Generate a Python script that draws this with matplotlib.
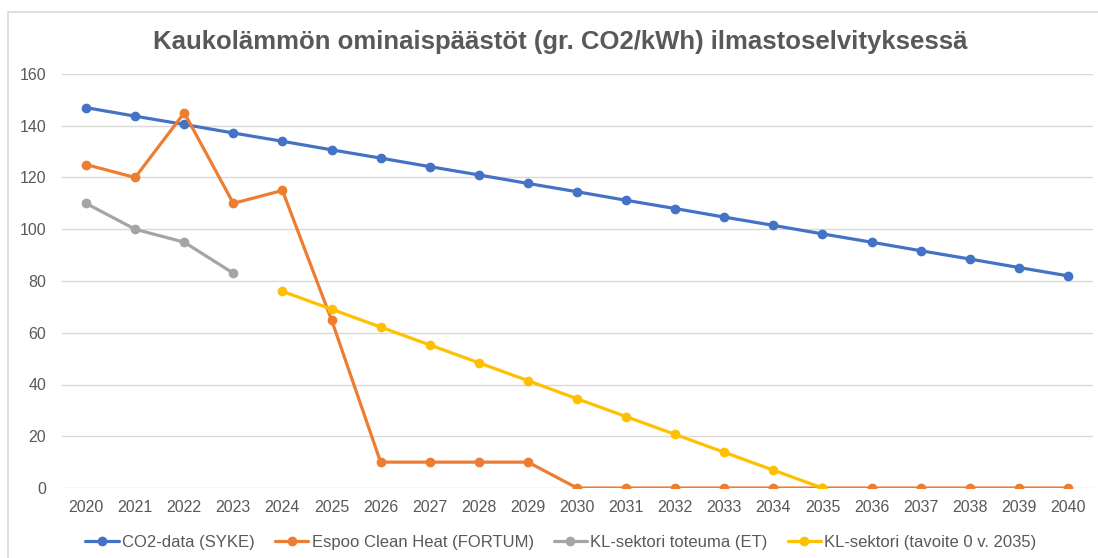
import matplotlib
matplotlib.use("Agg")
import matplotlib.pyplot as plt
from matplotlib.patches import Rectangle

plt.rcParams['font.family'] = ['Liberation Sans', 'DejaVu Sans']

years = list(range(2020, 2041))
syke = [147, 143.7, 140.5, 137.2, 134, 130.7, 127.5, 124.2, 121, 117.7, 114.5,
        111.2, 108, 104.7, 101.5, 98.2, 95, 91.7, 88.5, 85.2, 82]
fortum = [125, 120, 145, 110, 115, 65, 10, 10, 10, 10, 0,
          0, 0, 0, 0, 0, 0, 0, 0, 0, 0]
et_years = [2020, 2021, 2022, 2023]
et = [110, 100, 95, 83]
target_years = list(range(2024, 2036))
target = [76, 69.1, 62.2, 55.3, 48.4, 41.5, 34.5, 27.6, 20.7, 13.8, 6.9, 0]

labels = ["CO2-data (SYKE)", "Espoo Clean Heat (FORTUM)",
          "KL-sektori toteuma (ET)", "KL-sektori (tavoite 0 v. 2035)"]
colors = ["#4472C4", "#ED7D31", "#A5A5A5", "#FFC000"]
title = "Kaukolämmön ominaispäästöt (gr. CO2/kWh) ilmastoselvityksessä"

fig = plt.figure(figsize=(10.98, 5.58), dpi=100)
fig.patches.append(Rectangle((8/1098, -0.1), 1.2, 1.1 - 12/558, transform=fig.transFigure,
                             fill=False, edgecolor="#D9D9D9", linewidth=1.2))
ax = fig.add_axes([61.5/1098, 1 - 488/558, (1092.5 - 61.5)/1098, (488 - 74)/558])

series = [(years, syke), (years, fortum), (et_years, et), (target_years, target)]
for (xs, ys), lab, c in zip(series, labels, colors):
    ax.plot(xs, ys, color=c, lw=2.3, marker='o', ms=6, label=lab, solid_capstyle='round')

ax.set_xlim(2019.5, 2040.5)
ax.set_ylim(0, 160)
ax.set_yticks(range(0, 161, 20))
ax.set_xticks(years)
ax.grid(axis='y', color="#D9D9D9", lw=1)
ax.set_axisbelow(True)
for s in ax.spines.values():
    s.set_visible(False)
ax.tick_params(axis='both', length=0, labelsize=11.5, colors="#595959")
ax.tick_params(axis='x', pad=9)
ax.tick_params(axis='y', pad=11)

fig.text(560/1098, 1 - 42/558, title, ha='center', va='center', fontsize=18.5,
         fontweight='bold', color="#595959")
fig.legend(loc='center', bbox_to_anchor=(561/1098, 1 - 542/558), ncol=4, frameon=False,
           fontsize=12, labelcolor="#595959", handlelength=2.0, handletextpad=0.2,
           columnspacing=1.2, borderpad=0)

fig.savefig("out.png", dpi=100)
